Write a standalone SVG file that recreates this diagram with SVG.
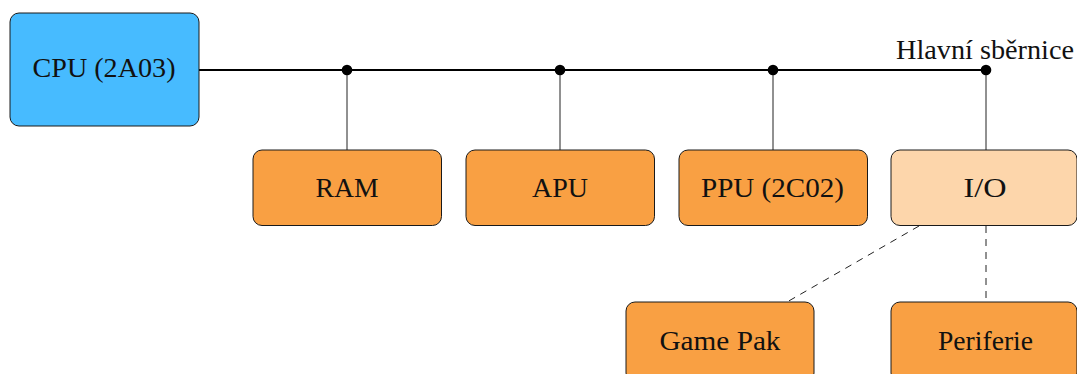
<svg xmlns="http://www.w3.org/2000/svg" width="1077" height="374" viewBox="0 0 1077 374">
  <style>
    .box { stroke: #1a1a1a; stroke-width: 1; }
    .cpu { fill: #47BBFF; }
    .unit { fill: #F9A043; }
    .io { fill: #FDD6AB; }
    .lbl { font-family: "Liberation Serif", "DejaVu Serif", serif; font-size: 26.5px; fill: #111; text-anchor: middle; }
    .bus { stroke: #000; stroke-width: 1.8; fill: none; }
    .tap { stroke: #222; stroke-width: 1; fill: none; }
    .link { stroke: #222; stroke-width: 1; fill: none; stroke-dasharray: 7 6; }
    .dot { fill: #000; }
  </style>

  <!-- bus and connectors -->
  <g id="connectors">
    <line class="bus" x1="199" y1="70" x2="986" y2="70"/>
    <line class="tap" x1="347" y1="70" x2="347" y2="150"/>
    <line class="tap" x1="560" y1="70" x2="560" y2="150"/>
    <line class="tap" x1="773" y1="70" x2="773" y2="150"/>
    <line class="tap" x1="986" y1="70" x2="986" y2="150"/>
    <circle class="dot" cx="347" cy="70" r="5.3"/>
    <circle class="dot" cx="560" cy="70" r="5.3"/>
    <circle class="dot" cx="773" cy="70" r="5.3"/>
    <circle class="dot" cx="986" cy="70" r="5.3"/>
    <line class="link" x1="919" y1="226" x2="787" y2="302"/>
    <line class="link" x1="986" y1="226" x2="986" y2="302"/>
    <text class="lbl" x="1074" y="59" style="text-anchor:end" textLength="178" lengthAdjust="spacingAndGlyphs">Hlavní sběrnice</text>
  </g>

  <g id="cpu">
    <rect class="box cpu" x="10" y="13" width="189" height="113" rx="9"/>
    <text class="lbl" x="104" y="77" textLength="143" lengthAdjust="spacingAndGlyphs">CPU (2A03)</text>
  </g>

  <g id="ram">
    <rect class="box unit" x="253" y="150" width="188.5" height="75.5" rx="9"/>
    <text class="lbl" x="347" y="197" textLength="63" lengthAdjust="spacingAndGlyphs">RAM</text>
  </g>

  <g id="apu">
    <rect class="box unit" x="466" y="150" width="188.5" height="75.5" rx="9"/>
    <text class="lbl" x="560" y="197" textLength="56" lengthAdjust="spacingAndGlyphs">APU</text>
  </g>

  <g id="ppu">
    <rect class="box unit" x="679" y="150" width="188.5" height="75.5" rx="9"/>
    <text class="lbl" x="772.5" y="197" textLength="143" lengthAdjust="spacingAndGlyphs">PPU (2C02)</text>
  </g>

  <g id="io">
    <rect class="box io" x="891" y="150" width="186" height="75.5" rx="9"/>
    <text class="lbl" x="985" y="197" textLength="43" lengthAdjust="spacingAndGlyphs">I/O</text>
  </g>

  <g id="gamepak">
    <rect class="box unit" x="626" y="302" width="188" height="80" rx="9"/>
    <text class="lbl" x="720" y="350" textLength="121" lengthAdjust="spacingAndGlyphs">Game Pak</text>
  </g>

  <g id="periferie">
    <rect class="box unit" x="891" y="302" width="186" height="80" rx="9"/>
    <text class="lbl" x="985.5" y="350" textLength="95" lengthAdjust="spacingAndGlyphs">Periferie</text>
  </g>
</svg>
